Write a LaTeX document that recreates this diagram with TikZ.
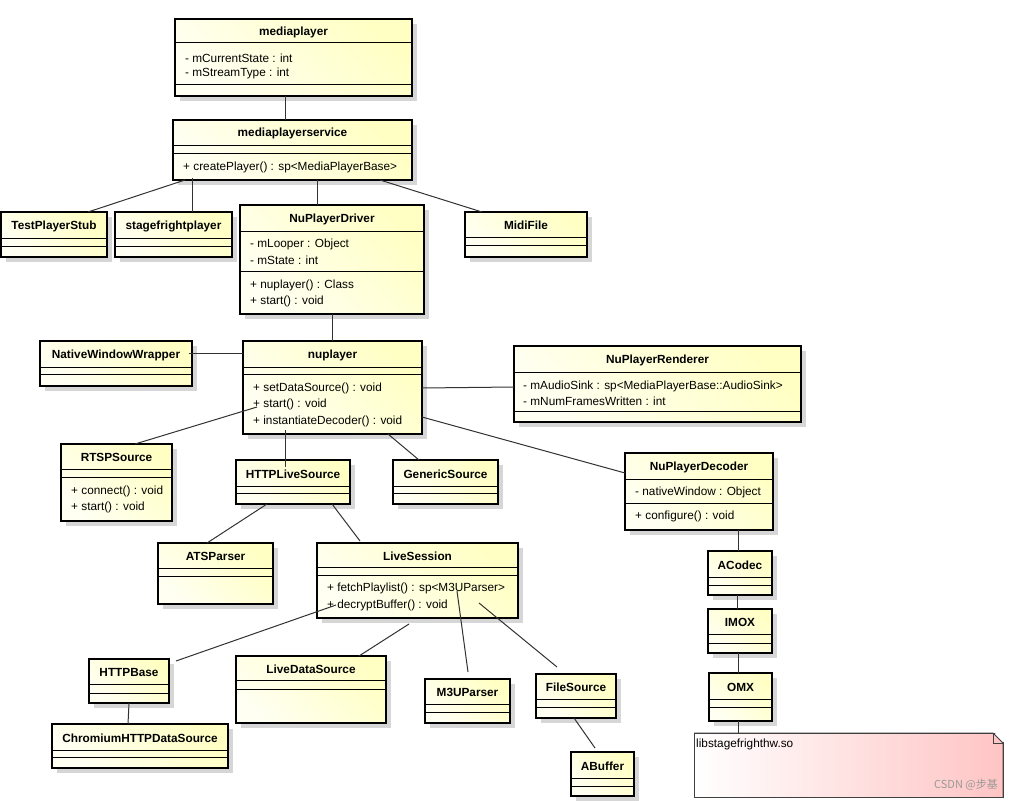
\documentclass[tikz,border=0pt]{standalone}
\usepackage{fontspec}
\setmainfont{Liberation Sans}
\newfontfamily\cjkfont{Noto Sans CJK SC}
\usetikzlibrary{calc}
\definecolor{cyel}{RGB}{255,255,196}
\definecolor{cyelL}{RGB}{255,255,242}
\definecolor{cpink}{RGB}{255,196,196}
\definecolor{cline}{RGB}{50,50,50}
\tikzset{
  classbox/.style={draw=black, line width=1.6pt, inner sep=0pt, outer sep=0pt,
    top color=cyel, bottom color=cyelL, shading angle=-45},
  boxshadow/.style={fill=black!16},
  divider/.style={draw=black, line width=1pt},
  titletext/.style={font=\fontsize{11.8}{13}\selectfont\bfseries, inner sep=0pt},
  membertext/.style={font=\fontsize{11.8}{13}\selectfont, inner sep=0pt, anchor=west},
  conn/.style={draw=cline, line width=1pt},
  notebox/.style={draw=black!75, line width=1pt, left color=white, right color=cpink},
}
\newcommand\umlclass[8]{%
  \pgfmathsetmacro\ucw{#4-#2}\pgfmathsetmacro\uch{#5-#3}%
  \fill[boxshadow] (#2+5,#3+5) rectangle (#4+5,#5+5);
  \node[classbox, minimum width=\ucw pt, minimum height=\uch pt, anchor=north west] (#1) at (#2,#3) {};
  \draw[divider] (#2,#6) -- (#4,#6);
  \draw[divider] (#2,#7) -- (#4,#7);
  \node[titletext] (#1-t) at ({(#2+#4)/2},{(#3+#6)/2+1}) {#8};
}
\newcommand\umltext[4]{\node[membertext] (#1) at (#2,#3) {#4};}
\begin{document}
\begin{tikzpicture}[x=1pt,y=-1pt]
\useasboundingbox (0,0) rectangle (1011,800);
\fill[white] (0,0) rectangle (1011,800);

% classes
\umlclass{mp}{175}{19}{412}{96}{43}{84}{mediaplayer}
\umltext{mp-a1}{185}{58}{- mCurrentState : int}
\umltext{mp-a2}{185}{73}{- mStreamType : int}

\umlclass{mps}{173}{120}{412}{180}{145}{153}{mediaplayerservice}
\umltext{mps-m1}{183}{167}{+ createPlayer() : sp<MediaPlayerBase>}

\umlclass{tps}{1}{212}{107}{257}{238}{246}{TestPlayerStub}
\umlclass{sfp}{115}{212}{232}{257}{238}{246}{stagefrightplayer}

\umlclass{npd}{240}{205}{424}{314}{231}{271}{NuPlayerDriver}
\umltext{npd-a1}{250}{244}{- mLooper : Object}
\umltext{npd-a2}{250}{260}{- mState : int}
\umltext{npd-m1}{250}{285}{+ nuplayer() : Class}
\umltext{npd-m2}{250}{301}{+ start() : void}

\umlclass{midi}{465}{212}{587}{257}{237}{245}{MidiFile}

\umlclass{nww}{40}{341}{192}{386}{367}{374}{NativeWindowWrapper}

\umlclass{np}{243}{341}{422}{434}{367}{374}{nuplayer}
\umltext{np-m1}{253}{388}{+ setDataSource() : void}
\umltext{np-m2}{253}{404}{+ start() : void}
\umltext{np-m3}{253}{421}{+ instantiateDecoder() : void}

\umlclass{rend}{514}{346}{801}{422}{372}{411}{NuPlayerRenderer}
\umltext{rend-a1}{523}{386}{- mAudioSink : sp<MediaPlayerBase::AudioSink>}
\umltext{rend-a2}{523}{401}{- mNumFramesWritten : int}

\umlclass{rtsp}{61}{444}{172}{521}{469}{477}{RTSPSource}
\umltext{rtsp-m1}{71}{491}{+ connect() : void}
\umltext{rtsp-m2}{71}{507}{+ start() : void}

\umlclass{hls}{236}{460}{350}{504}{486}{493}{HTTPLiveSource}
\umlclass{gen}{393}{460}{498}{504}{486}{493}{GenericSource}

\umlclass{dec}{625}{453}{773}{530}{479}{503}{NuPlayerDecoder}
\umltext{dec-a1}{635}{492}{- nativeWindow : Object}
\umltext{dec-m1}{635}{516}{+ configure() : void}

\umlclass{ats}{158}{543}{273}{604}{568}{576}{ATSParser}

\umlclass{ls}{317}{543}{518}{618}{567}{575}{LiveSession}
\umltext{ls-m1}{327}{588}{+ fetchPlaylist() : sp<M3UParser>}
\umltext{ls-m2}{327}{605}{+ decryptBuffer() : void}

\umlclass{acodec}{708}{551}{772}{595}{577}{585}{ACodec}
\umlclass{imox}{708}{609}{772}{653}{634}{643}{IMOX}
\umlclass{omx}{709}{673}{772}{721}{699}{707}{OMX}

\umlclass{hbase}{89}{659}{169}{703}{684}{693}{HTTPBase}
\umlclass{chrom}{52}{724}{228}{768}{750}{757}{ChromiumHTTPDataSource}
\umlclass{lds}{236}{656}{386}{723}{680}{689}{LiveDataSource}
\umlclass{m3u}{425}{679}{510}{723}{704}{712}{M3UParser}
\umlclass{fs}{536}{674}{616}{718}{699}{707}{FileSource}
\umlclass{abuf}{571}{752}{634}{796}{778}{786}{ABuffer}

% note
\node[notebox, minimum width=309pt, minimum height=64pt, anchor=north west, inner sep=0pt,
  path picture={\fill[white] ([xshift=-10pt]path picture bounding box.north east) -- (path picture bounding box.north east) -- ([yshift=-10pt]path picture bounding box.north east) -- cycle;}] (note) at (694,733) {};
\fill[white] (994,732) -- (1004.5,732) -- (1004.5,743) -- cycle;
\draw[draw=black!75, line width=1pt] (694,733) -- (993,733) -- (1003,743) -- (1003,797);
\draw[draw=black!75, line width=0.8pt] (993,733) -- (993,743) -- (1003,743);
\node[membertext] (note-t) at (696,744) {libstagefrighthw.so};
\node[font=\cjkfont\fontsize{11}{13}\selectfont, text=black!40, anchor=east, inner sep=0pt] (wm) at (998,785) {CSDN @步基};

% connectors
\draw[conn] ([shift={(110,77)}]mp.north west) -- ([shift={(112,0)}]mps.north west);
\draw[conn] ([shift={(12,60)}]mps.north west) -- ([shift={(87,0)}]tps.north west);
\draw[conn] ([shift={(19,58)}]mps.north west) -- ([shift={(77,0)}]sfp.north west);
\draw[conn] ([shift={(144,60)}]mps.north west) -- ([shift={(77,0)}]npd.north west);
\draw[conn] ([shift={(207,60)}]mps.north west) -- ([shift={(17,0)}]midi.north west);
\draw[conn] ([shift={(92,109)}]npd.north west) -- ([shift={(89,0)}]np.north west);
\draw[conn] ([shift={(149,12)}]nww.north west) -- ([shift={(0,12)}]np.north west);
\draw[conn] ([shift={(14,66)}]np.north west) -- ([shift={(74,0)}]rtsp.north west);
\draw[conn] ([shift={(42,89)}]np.north west) -- ([shift={(49,7)}]hls.north west);
\draw[conn] ([shift={(145,93)}]np.north west) -- ([shift={(26,0)}]gen.north west);
\draw[conn] ([shift={(179,47)}]np.north west) -- ([shift={(0,41)}]rend.north west);
\draw[conn] ([shift={(179,76)}]np.north west) -- ([shift={(0,20)}]dec.north west);
\draw[conn] ([shift={(31,44)}]hls.north west) -- ([shift={(49,0)}]ats.north west);
\draw[conn] ([shift={(96,44)}]hls.north west) -- ([shift={(43,-2)}]ls.north west);
\draw[conn] ([shift={(113,77)}]dec.north west) -- ([shift={(30,0)}]acodec.north west);
\draw[conn] ([shift={(29,44)}]acodec.north west) -- ([shift={(29,0)}]imox.north west);
\draw[conn] ([shift={(30,44)}]imox.north west) -- ([shift={(29,0)}]omx.north west);
\draw[conn] ([shift={(29,48)}]omx.north west) -- ([shift={(44,0)}]note.north west);
\draw[conn] ([shift={(19,62)}]ls.north west) -- ([shift={(87,2)}]hbase.north west);
\draw[conn] ([shift={(92,81)}]ls.north west) -- ([shift={(123,0)}]lds.north west);
\draw[conn] ([shift={(140,48)}]ls.north west) -- ([shift={(43,-7)}]m3u.north west);
\draw[conn] ([shift={(162,60)}]ls.north west) -- ([shift={(21,-7)}]fs.north west);
\draw[conn] ([shift={(38,44)}]fs.north west) -- ([shift={(24,-4)}]abuf.north west);
\draw[conn] ([shift={(40,44)}]hbase.north west) -- ([shift={(76,0)}]chrom.north west);
\end{tikzpicture}
\end{document}
